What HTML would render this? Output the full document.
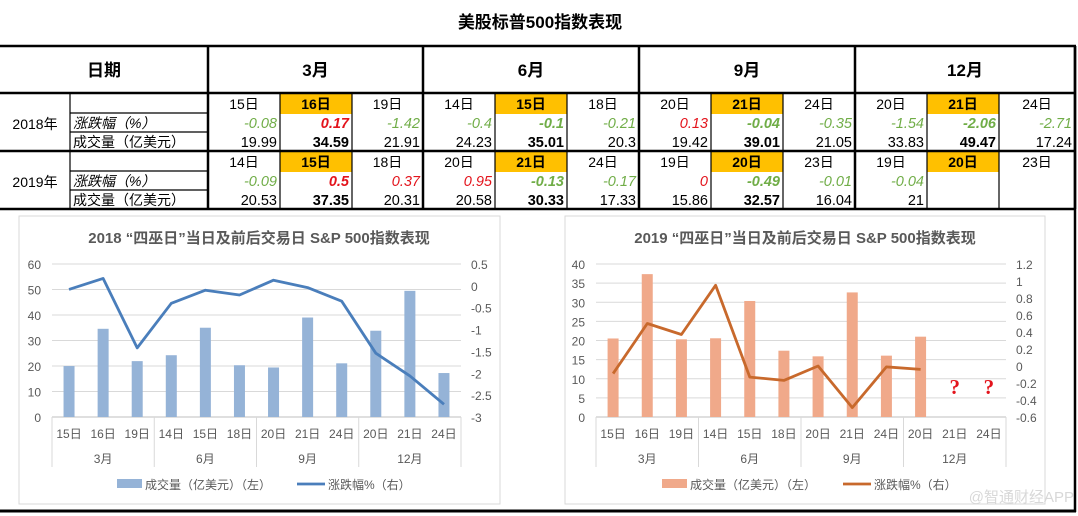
<!DOCTYPE html>
<html><head><meta charset="utf-8">
<style>
html,body{margin:0;padding:0;background:#fff;}
svg{display:block;font-family:"Liberation Sans","Noto Sans CJK SC",sans-serif;}
</style></head>
<body>
<svg id="s" width="1078" height="516" viewBox="0 0 1078 516" xmlns="http://www.w3.org/2000/svg">
<text x="540" y="28" text-anchor="middle" font-size="17" font-weight="bold" fill="#000">美股标普500指数表现</text>
<g id="tbl"></g>
<g id="c1"></g>
<g id="c2"></g>
<text x="1074" y="502" text-anchor="end" font-size="15" fill="#d8d8d8">@智通财经APP</text>
</svg>
<script>
const NS="http://www.w3.org/2000/svg";
function mk(p,t,a,txt){const e=document.createElementNS(NS,t);for(const k in a)e.setAttribute(k,a[k]);if(txt!==undefined)e.textContent=txt;p.appendChild(e);return e;}

// ---------- data ----------
const months=["3月","6月","9月","12月"];
const days2018=["15日","16日","19日","14日","15日","18日","20日","21日","24日","20日","21日","24日"];
const chg2018=[-0.08,0.17,-1.42,-0.4,-0.1,-0.21,0.13,-0.04,-0.35,-1.54,-2.06,-2.71];
const vol2018=[19.99,34.59,21.91,24.23,35.01,20.3,19.42,39.01,21.05,33.83,49.47,17.24];
const days2019=["14日","15日","18日","20日","21日","24日","19日","20日","23日","19日","20日","23日"];
const chg2019=[-0.09,0.5,0.37,0.95,-0.13,-0.17,0,-0.49,-0.01,-0.04,null,null];
const vol2019=[20.53,37.35,20.31,20.58,30.33,17.33,15.86,32.57,16.04,21,null,null];
const chartDays2019=["15日","16日","19日","14日","15日","18日","20日","21日","24日","20日","21日","24日"];
const leftTicks2018=[0,10,20,30,40,50,60];
const rightTicks2018=[-3,-2.5,-2,-1.5,-1,-0.5,0,0.5];
const leftTicks2019=[0,5,10,15,20,25,30,35,40];
const rightTicks2019=[-0.6,-0.4,-0.2,0,0.2,0.4,0.6,0.8,1,1.2];

// ---------- table ----------
const T=document.getElementById('tbl');
const secX=[208,423,639,855,1075];
const cw=72;
const GREEN="#70ad47",RED="#e3141c";
function cellX(i){const s=Math.floor(i/3);return secX[s]+(i%3)*cw;}
function fmt(v){return String(v);}
function yearBlock(y0,year,days,chg,vol){
  for(let i=0;i<12;i++){
    const x=cellX(i), w=(i%3==2)?(secX[Math.floor(i/3)+1]-x):cw;
    if(i%3==1){const r=mk(T,'rect',{x:x,y:y0,width:w,height:20,fill:"#ffc000"});
      }
    const cx=x+w/2;
    const d=mk(T,'text',{x:cx,y:y0+15,'text-anchor':'middle','font-size':14,'font-weight':i%3==1?'bold':'normal',fill:'#000'},days[i]);
    
    if(chg[i]!==null){
      const c=mk(T,'text',{x:x+w-3,y:y0+34,'text-anchor':'end','font-size':14.5,'font-style':'italic','font-weight':i%3==1?'bold':'normal',fill:chg[i]>=0?RED:GREEN},fmt(chg[i]));
      
    }
    if(vol[i]!==null){
      const v=mk(T,'text',{x:x+w-3,y:y0+53,'text-anchor':'end','font-size':14.5,'font-weight':i%3==1?'bold':'normal',fill:'#000'},fmt(vol[i]));
      
    }
  }
  const yl=mk(T,'text',{x:35,y:y0+35,'text-anchor':'middle','font-size':14,fill:'#000'},year);
  
  const l1=mk(T,'text',{x:73,y:y0+34,'font-size':14,'font-style':'italic',fill:'#000'},"涨跌幅（%）");
  
  const l2=mk(T,'text',{x:73,y:y0+53,'font-size':14,fill:'#000'},"成交量（亿美元）");
  
}
yearBlock(94,"2018年",days2018,chg2018,vol2018);
yearBlock(152,"2019年",days2019,chg2019,vol2019);
const h=mk(T,'text',{x:104,y:76,'text-anchor':'middle','font-size':17,'font-weight':'bold'},"日期");

months.forEach((m,i)=>{const t=mk(T,'text',{x:(secX[i]+secX[i+1])/2,y:76,'text-anchor':'middle','font-size':17,'font-weight':'bold'},m);
  });
function ln(x1,y1,x2,y2,w){mk(T,'line',{x1:x1,y1:y1,x2:x2,y2:y2,stroke:'#000','stroke-width':w});}
ln(0,46,1076,46,2.5);ln(0,93,1076,93,2.5);ln(0,151,1076,151,2.5);ln(0,209,1076,209,2.5);
[113,132,171,190].forEach(y=>ln(70,y,208,y,1.2));
ln(70,93,70,209,1.2);
secX.forEach(x=>ln(x,46,x,209,2.5));
for(let i=0;i<12;i++){if(i%3){const x=cellX(i);ln(x,93,x,209,1.2);}}
ln(1075,46,1075,512,2.5);ln(0,511,1076,511,3);

// ---------- charts ----------
function chart(G,o){
  mk(G,'rect',{x:o.bx,y:216,width:o.bw,height:288,fill:'#fff',stroke:'#d9d9d9'});
  const tt=mk(G,'text',{x:o.tx,y:243,'text-anchor':'middle','font-size':15,'font-weight':'bold',fill:'#595959'},o.title);
  
  const top=264,bot=417,L=o.px0,R=o.px1;
  const yL=v=>bot-(v-o.lmin)/(o.lmax-o.lmin)*(bot-top);
  const yR=v=>bot-(v-o.rmin)/(o.rmax-o.rmin)*(bot-top);
  const n=o.days.length,bw=(R-L)/n;
  const xc=i=>L+bw*(i+0.5);
  o.lt.forEach(v=>{mk(G,'line',{x1:L,x2:R,y1:yL(v),y2:yL(v),stroke:v===o.lmin?'#bfbfbf':'#d9d9d9','stroke-width':1});
    const t=mk(G,'text',{x:L-11,y:yL(v)+5,'text-anchor':'end','font-size':12,fill:'#595959'},String(v));
    });
  o.rt.forEach(v=>{const t=mk(G,'text',{x:R+10,y:yR(v)+5,'font-size':12,fill:'#595959'},String(v));
    });
  o.vol.forEach((v,i)=>{if(v===null)return;
    const r=mk(G,'rect',{x:xc(i)-o.barw/2,y:yL(v),width:o.barw,height:bot-yL(v),fill:o.barc});
    });
  const pts=[];o.chg.forEach((v,i)=>{if(v!==null)pts.push(xc(i).toFixed(1)+','+yR(v).toFixed(1));});
  const pl=mk(G,'polyline',{points:pts.join(' '),fill:'none',stroke:o.linec,'stroke-width':2.8,'stroke-linejoin':'round'});
  
  o.days.forEach((d,i)=>{const t=mk(G,'text',{x:xc(i),y:438,'text-anchor':'middle','font-size':12,fill:'#595959'},d);
    });
  months.forEach((m,g)=>{const t=mk(G,'text',{x:L+bw*(g*3+1.5),y:463,'text-anchor':'middle','font-size':12,fill:'#595959'},m);
    });
  for(let g=0;g<=4;g++){const x=L+bw*g*3;mk(G,'line',{x1:x,x2:x,y1:bot,y2:467,stroke:'#d9d9d9'});}
  const s1=mk(G,'rect',{x:o.lg1,y:479,width:25,height:9,fill:o.barc});
  
  const t1=mk(G,'text',{x:o.lg1+28,y:489,'font-size':12,fill:'#595959'},"成交量（亿美元）（左）");
  
  const s2=mk(G,'line',{x1:o.lg2,x2:o.lg2+28,y1:484,y2:484,stroke:o.linec,'stroke-width':2.8});
  
  const t2=mk(G,'text',{x:o.lg2+31,y:489,'font-size':12,fill:'#595959'},"涨跌幅%（右）");
  
  return {xc:xc,yR:yR};
}
chart(document.getElementById('c1'),{bx:19,bw:481,tx:259,title:'2018 “四巫日”当日及前后交易日 S&P 500指数表现',
  px0:52,px1:461,lmin:0,lmax:60,rmin:-3,rmax:0.5,lt:leftTicks2018,rt:rightTicks2018,
  days:days2018,vol:vol2018,chg:chg2018,barc:'#95b3d7',linec:'#4a7ebb',barw:11,lg1:117,lg2:297});
const c2=chart(document.getElementById('c2'),{bx:565,bw:480,tx:805,title:'2019 “四巫日”当日及前后交易日 S&P 500指数表现',
  px0:596,px1:1006,lmin:0,lmax:40,rmin:-0.6,rmax:1.2,lt:leftTicks2019,rt:rightTicks2019,
  days:chartDays2019,vol:vol2019,chg:chg2019,barc:'#f0a98a',linec:'#c8692c',barw:11,lg1:662,lg2:843});
const G2=document.getElementById('c2');
[10,11].forEach(i=>{const q=mk(G2,'text',{x:c2.xc(i),y:394,'text-anchor':'middle','font-size':21,'font-weight':'bold',fill:'#e3141c','font-family':'"Liberation Serif",serif'},"?");
  });
</script>
</body></html>
